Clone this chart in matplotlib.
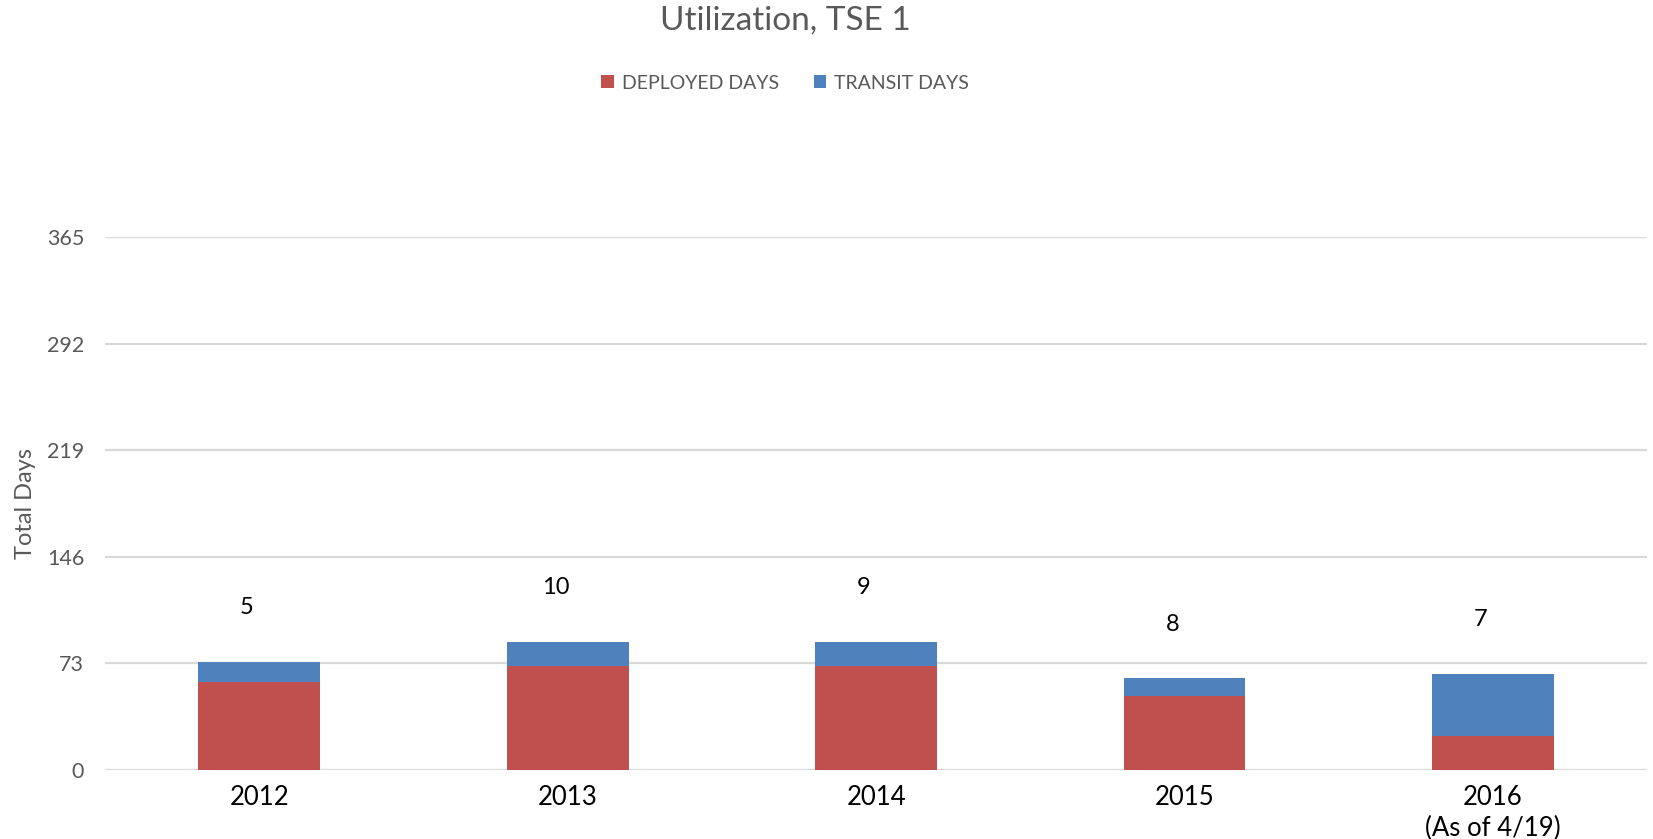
import matplotlib.pyplot as plt
import numpy as np

plt.rcParams['font.family'] = ['Lato', 'DejaVu Sans']

# --- data ---
years = ["2012", "2013", "2014", "2015", "2016\n(As of 4/19)"]
deployed_days = [60, 71, 71, 51, 23]
transit_days = [14, 17, 17, 12, 43]
bar_counts = [5, 10, 9, 8, 7]
y_ticks = [0, 73, 146, 219, 292, 365]

red = "#C0504D"
blue = "#4F81BD"
gray_text = "#595959"
grid_gray = "#D9D9D9"

fig = plt.figure(figsize=(16.53, 8.39), dpi=100)
ax = fig.add_axes([0.0635, 0.0822, 0.933, 0.6353])

x = np.arange(len(years))
width = 0.395
ax.bar(x, deployed_days, width, color=red, label="DEPLOYED DAYS", zorder=3)
ax.bar(x, transit_days, width, bottom=deployed_days, color=blue,
       label="TRANSIT DAYS", zorder=3)

# count labels above each stack
totals = np.array(deployed_days) + np.array(transit_days)
for xi, tot, n in zip(x, totals, bar_counts):
    ax.text(xi - 0.04, tot + 37, str(n), ha="center", va="center",
            fontsize=17, color="black")

ax.set_xlim(-0.5, len(years) - 0.5)
ax.set_ylim(0, 365)
ax.set_yticks(y_ticks)
ax.set_yticklabels([str(v) for v in y_ticks], fontsize=15.5, color=gray_text)
ax.set_xticks(x)
ax.set_xticklabels(years, fontsize=18.5, color="black", linespacing=1.3)
ax.tick_params(axis="both", length=0)
ax.tick_params(axis="x", pad=11)
ax.tick_params(axis="y", pad=15)
ax.yaxis.grid(True, color=grid_gray, linewidth=1.6, zorder=0)
ax.set_axisbelow(True)
for s in ax.spines.values():
    s.set_visible(False)

ax.set_ylabel("Total Days", fontsize=17, color=gray_text, labelpad=8)

fig.text(0.475, 0.975, "Utilization, TSE 1", ha="center", va="center",
         fontsize=24, color=gray_text)

leg = fig.legend(loc="center", bbox_to_anchor=(0.475, 0.901), ncol=2,
                 frameon=False, fontsize=14, handlelength=0.65,
                 handleheight=0.65, handletextpad=0.4, columnspacing=1.8)
for t in leg.get_texts():
    t.set_color(gray_text)

fig.savefig("out.png", dpi=100)
